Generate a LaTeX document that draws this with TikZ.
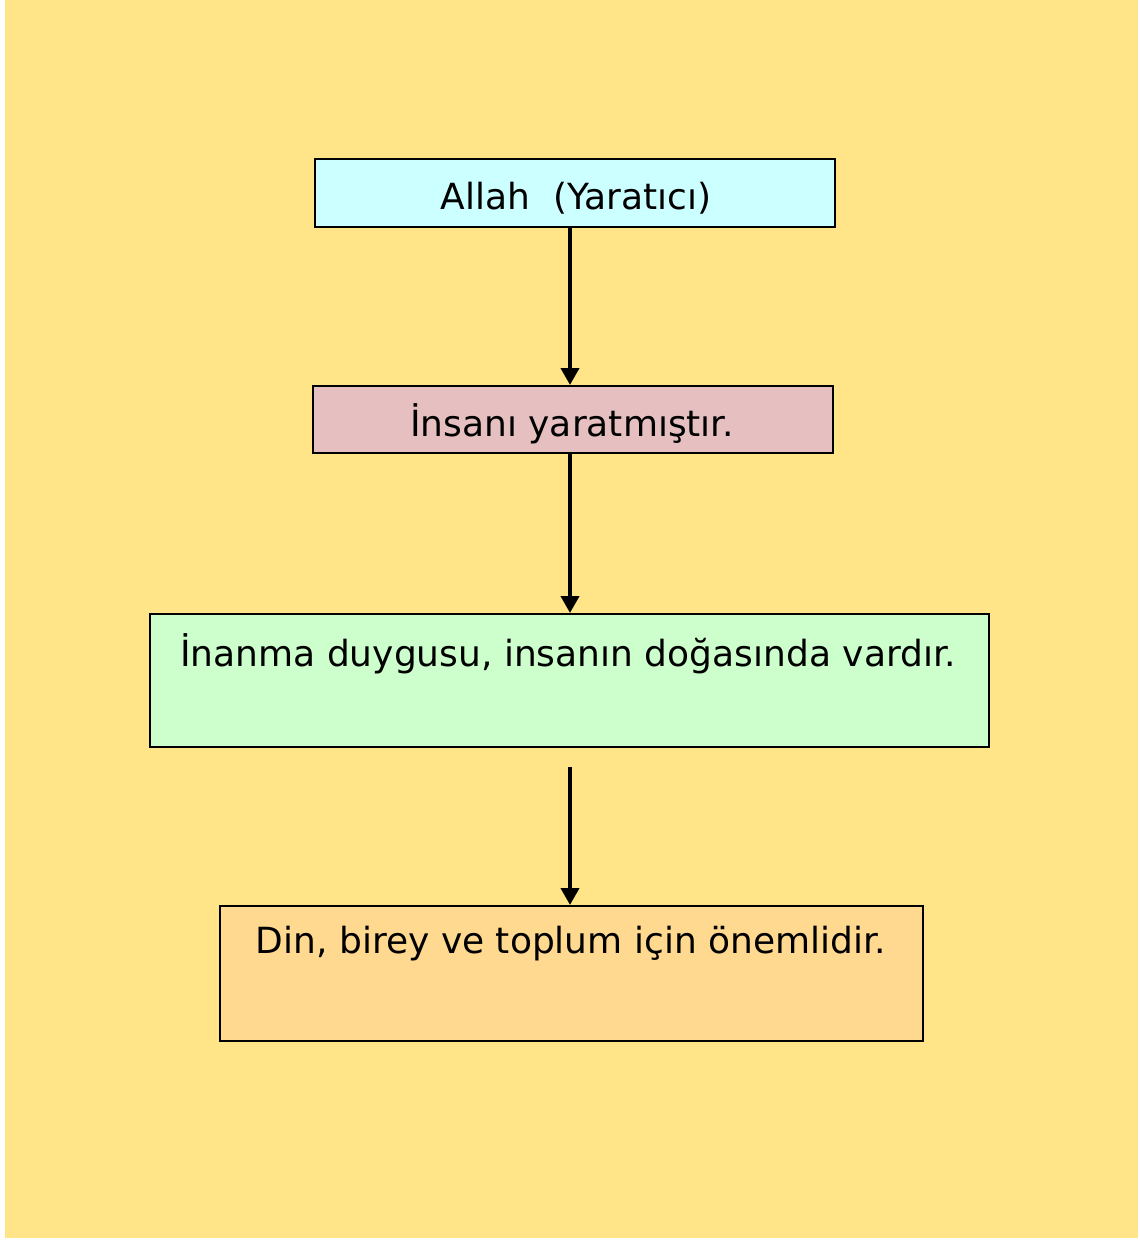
\documentclass[tikz,border=0pt]{standalone}
\usepackage{fontspec}
\setmainfont{DejaVu Sans}
\usetikzlibrary{arrows.meta}
\definecolor{bgyellow}{HTML}{FFE588}
\definecolor{boxcyan}{HTML}{CCFFFF}
\definecolor{boxpink}{HTML}{E6C0C0}
\definecolor{boxgreen}{HTML}{CCFFCC}
\definecolor{boxorange}{HTML}{FFD98F}
\tikzset{
  flowbox/.style={draw=black, line width=1.5pt, inner sep=0pt, text=black},
  flowarrow/.style={line width=4pt, -{Triangle[width=18pt,length=17pt]}},
  boxtext/.style={font=\fontsize{36}{42}\selectfont, text=black}
}
\begin{document}
\begin{tikzpicture}[x=1pt,y=-1pt]
\useasboundingbox (0,0) rectangle (1140,1240);
\fill[white] (0,0) rectangle (1140,1240);
\fill[bgyellow] (5,0) rectangle (1138,1238);
% boxes
\node[flowbox, fill=boxcyan, minimum width=520pt, minimum height=68pt, anchor=north west] (b1) at (314,158) {};
\node[boxtext] (t1) at (576,198) {Allah\ \ (Yaratıcı)};
\node[flowbox, fill=boxpink, minimum width=520pt, minimum height=67pt, anchor=north west] (b2) at (312,385) {};
\node[boxtext] (t2) at (572,424) {İnsanı yaratmıştır.};
\node[flowbox, fill=boxgreen, minimum width=839pt, minimum height=133pt, anchor=north west] (b3) at (149,613) {};
\node[boxtext] (t3) at (568,654) {İnanma duygusu, insanın doğasında vardır.};
\node[flowbox, fill=boxorange, minimum width=703pt, minimum height=135pt, anchor=north west] (b4) at (219,905) {};
\node[boxtext] (t4) at (571,944) {Din, birey ve toplum için önemlidir.};
% connectors
\coordinate (c3) at (570,767);
\draw[flowarrow] (b1.south -| 570,0) -- (b2.north -| 570,0);
\draw[flowarrow] (b2.south -| 570,0) -- (b3.north -| 570,0);
\draw[flowarrow] (c3) -- (b4.north -| 570,0);
\end{tikzpicture}
\end{document}
